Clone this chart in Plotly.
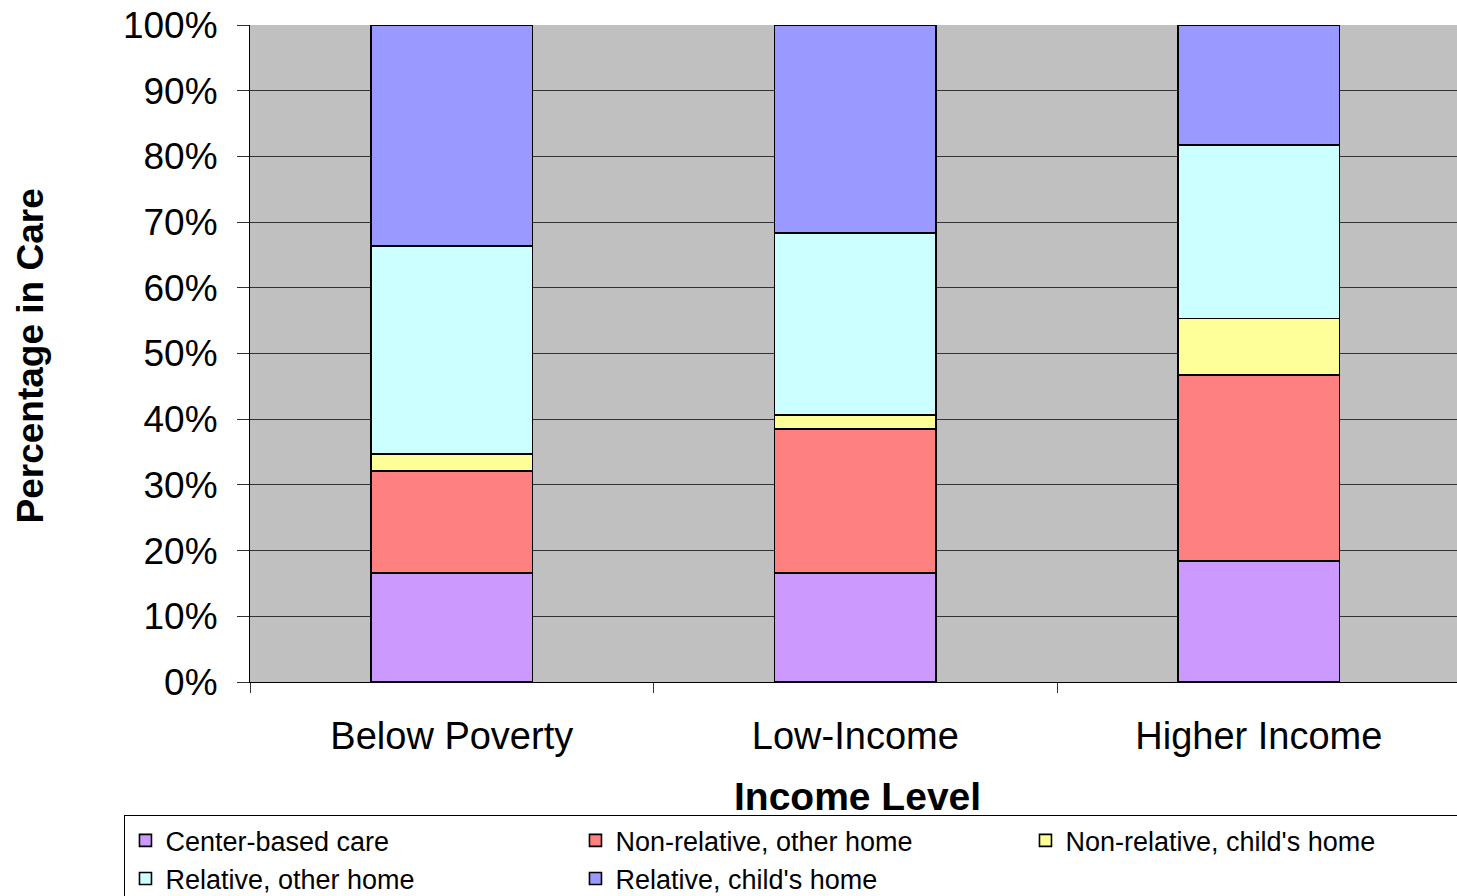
import plotly.graph_objects as go

categories = ["Below Poverty", "Low-Income", "Higher Income"]
center_based = [16.6, 16.6, 18.4]
nonrel_other = [15.5, 21.9, 28.3]
nonrel_child = [2.6, 2.1, 8.6]
rel_other = [31.7, 27.7, 26.4]
rel_child = [33.6, 31.7, 18.3]

series = [
    ("Center-based care", center_based, "#CC99FF"),
    ("Non-relative, other home", nonrel_other, "#FF8080"),
    ("Non-relative, child's home", nonrel_child, "#FFFF99"),
    ("Relative, other home", rel_other, "#CCFFFF"),
    ("Relative, child's home", rel_child, "#9999FF"),
]

FONT = "Liberation Sans, Arial, sans-serif"

fig = go.Figure()
for name, vals, color in series:
    fig.add_trace(go.Bar(
        name=name, x=categories, y=vals, width=0.4,
        marker=dict(color=color, line=dict(color="black", width=1.6)),
    ))

fig.update_layout(
    barmode="stack",
    width=1457, height=896,
    margin=dict(l=250, r=0, t=25, b=214, autoexpand=False),
    paper_bgcolor="white",
    plot_bgcolor="#C0C0C0",
    font=dict(family=FONT, size=33, color="black"),
    showlegend=True,
    legend=dict(
        orientation="h",
        x=-0.104, xanchor="left",
        y=-0.203, yanchor="top",
        bgcolor="white",
        bordercolor="black", borderwidth=1,
        font=dict(family=FONT, size=27, color="black"),
        entrywidth=405,
        traceorder="normal",
        tracegroupgap=0,
    ),
    xaxis=dict(
        type="category",
        range=[-0.5, 2.491],
        tickson="boundaries",
        ticks="outside", ticklen=10, tickcolor="#333333",
        showline=True, linecolor="black", linewidth=1,
        showgrid=False,
        tickfont=dict(size=38),
        ticklabelstandoff=20,
        automargin=False,
    ),
    yaxis=dict(
        range=[0, 100],
        dtick=10,
        ticksuffix="%",
        ticks="outside", ticklen=12, tickcolor="#333333",
        showline=True, linecolor="black", linewidth=1,
        showgrid=True, gridcolor="#333333", gridwidth=1,
        zeroline=False,
        tickfont=dict(size=37),
        ticklabelstandoff=12,
        automargin=False,
    ),
    annotations=[
        dict(text="<b>Percentage in Care</b>", xref="paper", yref="paper",
             x=-0.182, y=0.496, textangle=-90, showarrow=False,
             xanchor="center", yanchor="middle",
             font=dict(family=FONT, size=37, color="black")),
        dict(text="<b>Income Level</b>", xref="paper", yref="paper",
             x=0.503, y=-0.175, showarrow=False,
             xanchor="center", yanchor="middle",
             font=dict(family=FONT, size=39, color="black")),
    ],
)

fig.write_html("out.html")
